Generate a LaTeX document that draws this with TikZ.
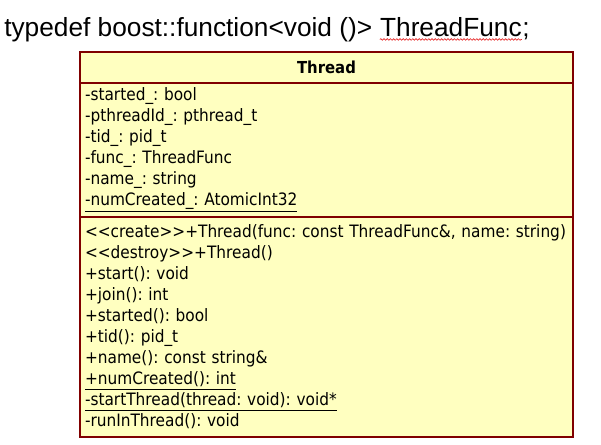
\documentclass[tikz,border=0pt]{standalone}
\usepackage{fontspec}
\setmainfont{Liberation Sans}
\newfontfamily\umlfont[FakeStretch=0.9]{DejaVu Sans}
\usepackage{xcolor}
\usetikzlibrary{positioning, decorations.pathmorphing}
\definecolor{classfill}{RGB}{255,255,192}
\definecolor{classborder}{RGB}{128,0,0}
\definecolor{spellred}{RGB}{230,40,40}

\begin{document}
\frenchspacing
\begin{tikzpicture}[
    x=0.75pt, y=-0.75pt,
    titletext/.style={inner sep=0pt, font=\fontsize{19.7}{22}\selectfont},
    spellmark/.style={spellred, line width=0.5pt, decorate, decoration={snake, amplitude=0.6pt, segment length=2.4pt}},
    classhead/.style={draw=classborder, fill=classfill, line width=1pt, outer sep=0pt, inner sep=0pt,
        minimum width=369.75pt, minimum height=23.25pt, font=\umlfont\bfseries\fontsize{12.4}{15.75}\selectfont},
    classpart/.style={draw=classborder, fill=classfill, line width=1pt, outer sep=0pt, inner xsep=3.75pt, inner ysep=0pt,
        text width=362.25pt, align=left, font=\umlfont\fontsize{12.8}{15.75}\selectfont}
]
    \useasboundingbox (0,0) rectangle (601,444);

    % Typedef line
    \node[titletext, anchor=base west] (tdef) at (4,36) {typedef boost::function<void ()>};
    \node[titletext, anchor=base west] (tfunc) at ([xshift=5.5pt]tdef.base east) {ThreadFunc};
    \node[titletext, anchor=base west] (tsemi) at (tfunc.base east) {;};
    \draw[spellmark] ([yshift=-2.6pt]tfunc.base west) -- ([yshift=-2.6pt]tfunc.base east);

    % Class Thread
    \node[classhead, anchor=north west] (head) at (80,52) {Thread};
    \node[classpart, minimum height=100.5pt, below=0pt of head] (attrs) {%
        -started\_: bool\\
        -pthreadId\_: pthread\_t\\
        -tid\_: pid\_t\\
        -func\_: ThreadFunc\\
        -name\_: string\\
        \underline{-numCreated\_: AtomicInt32}};
    \node[classpart, minimum height=165pt, below=0pt of attrs] (ops) {%
        <{}<create>{}>+Thread(func: const ThreadFunc\&, name: string)\\
        <{}<destroy>{}>+Thread()\\
        +start(): void\\
        +join(): int\\
        +started(): bool\\
        +tid(): pid\_t\\
        +name(): const string\&\\
        \underline{+numCreated(): int}\\
        \underline{-startThread(thread: void): void*}\\
        -runInThread(): void};
\end{tikzpicture}
\end{document}
